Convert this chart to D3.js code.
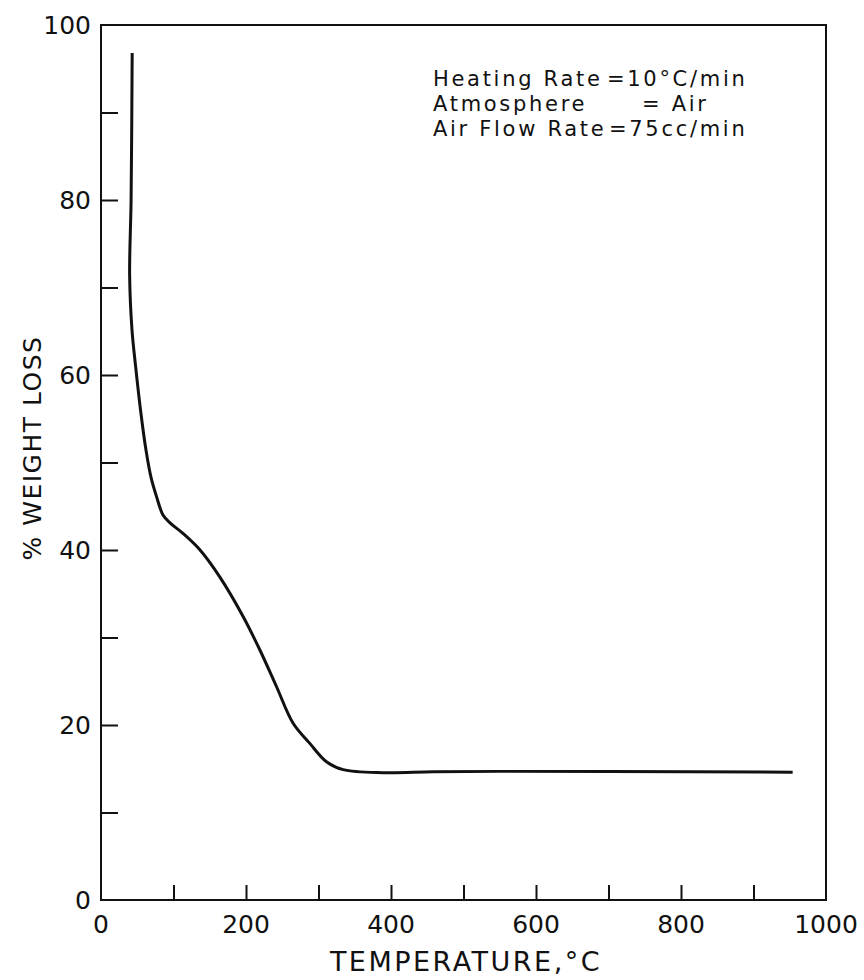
<!DOCTYPE html>
<html>
<head>
<meta charset="utf-8">
<script src="https://cdn.jsdelivr.net/npm/d3@7/dist/d3.min.js"></script>
<style>
  html, body { margin: 0; padding: 0; background: #fff; }
  svg { display: block; }
  text { font-family: "DejaVu Sans", "Liberation Sans", sans-serif; fill: #111; }
</style>
</head>
<body>
<div id="chart"></div>
<script>
// Thermogravimetric curve: temperature (°C) vs. % weight loss
const temperature = [43, 41.5, 39.5, 42.8, 47.6, 54.5, 62.1, 69, 76.6, 85.5, 95.2, 113, 136.6, 164, 196, 219, 242, 265, 288, 311, 334, 389, 458, 550, 700, 954];
const weightLoss  = [96.8, 80, 71.4, 65.1, 61.1, 56, 51.4, 48.3, 46.1, 44, 43.1, 41.9, 40, 36.9, 32.4, 28.6, 24.4, 20.2, 17.9, 15.8, 14.9, 14.55, 14.65, 14.7, 14.7, 14.6];

const xTickValues = [100, 200, 300, 400, 500, 600, 700, 800, 900];
const xTickLabels = [0, 200, 400, 600, 800, 1000];
const yTickValues = [10, 20, 30, 40, 50, 60, 70, 80, 90];
const yTickLabels = [0, 20, 40, 60, 80, 100];

const conditionNames  = ["Heating Rate", "Atmosphere", "Air Flow Rate"];
const conditionValues = ["=10°C/min", "= Air", "=75cc/min"];

const W = 864, H = 980;
const plotLeft = 101, plotRight = 826, plotTop = 25, plotBottom = 900;

const svg = d3.select("#chart").append("svg")
  .attr("width", W).attr("height", H);

const x = d3.scaleLinear().domain([0, 1000]).range([plotLeft, plotRight]);
const y = d3.scaleLinear().domain([0, 100]).range([plotBottom, plotTop]);

// frame
svg.append("rect")
  .attr("x", plotLeft).attr("y", plotTop)
  .attr("width", plotRight - plotLeft).attr("height", plotBottom - plotTop)
  .attr("fill", "none").attr("stroke", "#111").attr("stroke-width", 2);

// inward ticks
const xAxis = d3.axisTop(x).tickValues(xTickValues).tickSize(15).tickFormat("");
svg.append("g").attr("transform", `translate(0,${plotBottom})`).call(xAxis)
  .call(g => g.select(".domain").remove())
  .call(g => g.selectAll("line").attr("stroke", "#111").attr("stroke-width", 2));

const yAxis = d3.axisRight(y).tickValues(yTickValues).tickSize(17).tickFormat("");
svg.append("g").attr("transform", `translate(${plotLeft},0)`).call(yAxis)
  .call(g => g.select(".domain").remove())
  .call(g => g.selectAll("line").attr("stroke", "#111").attr("stroke-width", 2));

// tick labels
svg.append("g").selectAll("text").data(xTickLabels).join("text")
  .attr("x", d => x(d)).attr("y", 933)
  .attr("text-anchor", "middle")
  .attr("font-size", 25)
  .text(d => d);

svg.append("g").selectAll("text").data(yTickLabels).join("text")
  .attr("x", 91).attr("y", d => y(d) + 9)
  .attr("text-anchor", "end")
  .attr("font-size", 25)
  .text(d => d);

// axis titles
svg.append("text")
  .attr("x", 466).attr("y", 971)
  .attr("text-anchor", "middle")
  .attr("font-size", 27)
  .attr("letter-spacing", 2.5)
  .text("TEMPERATURE,°C");

svg.append("text")
  .attr("transform", "translate(41,448) rotate(-90)")
  .attr("text-anchor", "middle")
  .attr("font-size", 25)
  .attr("letter-spacing", 1.5)
  .text("% WEIGHT LOSS");

// conditions block
const valueX = [607, 642, 609];
const cond = svg.append("g")
  .attr("font-size", 21)
  .attr("letter-spacing", 2.7);
cond.selectAll("text.k").data(conditionNames).join("text")
  .attr("class", "k")
  .attr("x", 433).attr("y", (d, i) => 86 + i * 25)
  .text(d => d);
cond.selectAll("text.v").data(conditionValues).join("text")
  .attr("class", "v")
  .attr("x", (d, i) => valueX[i]).attr("y", (d, i) => 86 + i * 25)
  .text(d => d);

// curve
const pts = temperature.map((t, i) => [t, weightLoss[i]]);
const line = d3.line()
  .x(d => x(d[0])).y(d => y(d[1]))
  .curve(d3.curveCatmullRom.alpha(0.5));

svg.append("path")
  .datum(pts)
  .attr("d", line)
  .attr("fill", "none")
  .attr("stroke", "#111")
  .attr("stroke-width", 3)
  .attr("stroke-linejoin", "round");
</script>
</body>
</html>
